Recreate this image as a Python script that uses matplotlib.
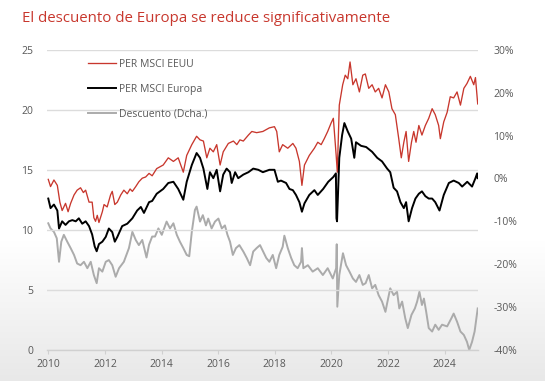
import numpy as np
import matplotlib
matplotlib.use("Agg")
import matplotlib.pyplot as plt

plt.rcParams['font.family'] = ['Open Sans', 'DejaVu Sans']

# ---- data (decimal years, values) ----
us_years = [2010.0, 2010.08, 2010.20, 2010.32, 2010.41, 2010.49, 2010.61, 2010.70, 2010.79, 2010.91,
            2011.02, 2011.14, 2011.24, 2011.32, 2011.44, 2011.55, 2011.61, 2011.67, 2011.73, 2011.79,
            2011.91, 2011.97, 2012.08, 2012.20, 2012.26, 2012.35, 2012.44, 2012.56, 2012.67, 2012.79,
            2012.89, 2012.97, 2013.09, 2013.20, 2013.32, 2013.44, 2013.56, 2013.67, 2013.83, 2014.06,
            2014.24, 2014.42, 2014.59, 2014.77, 2014.89, 2015.07, 2015.24, 2015.36, 2015.48, 2015.60,
            2015.71, 2015.83, 2015.95, 2016.07, 2016.18, 2016.36, 2016.54, 2016.66, 2016.77, 2016.89,
            2017.07, 2017.19, 2017.36, 2017.58, 2017.81, 2017.99, 2018.07, 2018.16, 2018.28, 2018.46,
            2018.64, 2018.75, 2018.87, 2018.96, 2019.05, 2019.22, 2019.40, 2019.52, 2019.64, 2019.75,
            2019.87, 2019.99, 2020.07, 2020.17, 2020.21, 2020.28, 2020.40, 2020.49, 2020.58, 2020.66,
            2020.76, 2020.87, 2020.99, 2021.11, 2021.20, 2021.32, 2021.44, 2021.55, 2021.67, 2021.79,
            2021.91, 2022.03, 2022.14, 2022.26, 2022.38, 2022.47, 2022.56, 2022.64, 2022.73, 2022.83,
            2022.91, 2022.99, 2023.09, 2023.20, 2023.32, 2023.44, 2023.56, 2023.67, 2023.79, 2023.85,
            2023.97, 2024.09, 2024.20, 2024.32, 2024.44, 2024.56, 2024.68, 2024.79, 2024.91, 2025.03,
            2025.09, 2025.17]
us_per = [14.2, 13.6, 14.15, 13.7, 12.3, 11.6, 12.2, 11.5, 12.2, 12.9,
          13.3, 13.5, 13.1, 13.3, 12.3, 12.3, 11.0, 10.7, 11.2, 10.6,
          11.5, 12.1, 11.9, 12.9, 13.2, 12.1, 12.3, 12.9, 13.3, 13.0,
          13.4, 13.2, 13.6, 14.0, 14.3, 14.4, 14.7, 14.5, 15.1, 15.4,
          16.0, 15.7, 16.0, 14.8, 16.2, 17.1, 17.8, 17.5, 17.4, 16.0,
          16.8, 16.5, 17.1, 15.4, 16.5, 17.2, 17.4, 17.1, 17.5, 17.4,
          17.9, 18.2, 18.1, 18.2, 18.5, 18.6, 18.2, 16.5, 17.1, 16.8,
          17.2, 16.8, 15.7, 13.7, 15.4, 16.2, 16.8, 17.3, 17.1, 17.6,
          18.2, 18.9, 19.3, 16.2, 14.8, 20.4, 22.1, 22.9, 22.6, 24.0,
          22.1, 22.6, 21.5, 22.9, 23.0, 21.8, 22.1, 21.5, 21.8, 21.0,
          22.1, 21.5, 20.1, 19.6, 17.6, 16.0, 17.3, 18.2, 15.7, 17.3,
          18.2, 17.3, 18.7, 17.9, 18.7, 19.3, 20.1, 19.6, 18.7, 17.6,
          19.0, 19.8, 21.1, 21.0, 21.5, 20.4, 21.8, 22.2, 22.8, 22.1,
          22.7, 20.5]

eu_years = [2010.0, 2010.08, 2010.20, 2010.32, 2010.38, 2010.49, 2010.61, 2010.73, 2010.85, 2010.97,
            2011.08, 2011.20, 2011.32, 2011.44, 2011.55, 2011.64, 2011.71, 2011.79, 2011.91, 2012.03,
            2012.14, 2012.26, 2012.35, 2012.44, 2012.61, 2012.79, 2012.97, 2013.14, 2013.27, 2013.38,
            2013.56, 2013.67, 2013.83, 2014.06, 2014.24, 2014.42, 2014.59, 2014.77, 2014.89, 2015.07,
            2015.24, 2015.36, 2015.48, 2015.62, 2015.71, 2015.83, 2015.95, 2016.07, 2016.18, 2016.30,
            2016.42, 2016.48, 2016.60, 2016.71, 2016.89, 2017.07, 2017.24, 2017.42, 2017.58, 2017.81,
            2017.99, 2018.11, 2018.22, 2018.40, 2018.52, 2018.64, 2018.75, 2018.87, 2018.96, 2019.05,
            2019.22, 2019.40, 2019.52, 2019.71, 2019.89, 2020.07, 2020.16, 2020.18, 2020.20, 2020.28,
            2020.38, 2020.46, 2020.58, 2020.70, 2020.81, 2020.87, 2021.05, 2021.23, 2021.44, 2021.62,
            2021.79, 2021.97, 2022.08, 2022.20, 2022.32, 2022.44, 2022.56, 2022.64, 2022.73, 2022.85,
            2022.97, 2023.09, 2023.20, 2023.32, 2023.44, 2023.56, 2023.67, 2023.82, 2023.97, 2024.15,
            2024.32, 2024.50, 2024.62, 2024.80, 2024.97, 2025.09, 2025.15, 2025.17]
eu_per = [12.6, 11.8, 12.1, 11.6, 10.1, 10.7, 10.4, 10.7, 10.8, 10.7,
          10.95, 10.5, 10.7, 10.3, 9.6, 8.6, 8.2, 8.8, 9.0, 9.4,
          10.1, 9.8, 9.0, 9.4, 10.3, 10.5, 10.95, 11.6, 11.9, 11.4,
          12.3, 12.4, 13.0, 13.4, 13.9, 14.0, 13.4, 12.5, 14.0, 15.4,
          16.4, 16.0, 15.1, 13.4, 14.8, 14.3, 15.0, 13.2, 14.6, 15.1,
          14.8, 13.9, 14.8, 14.3, 14.6, 14.8, 15.1, 15.0, 14.8, 15.0,
          15.0, 14.0, 14.1, 13.9, 13.4, 13.3, 12.9, 12.3, 11.5, 12.2,
          12.9, 13.3, 12.9, 13.4, 14.0, 14.4, 14.7, 10.95, 10.7, 16.0,
          17.9, 18.9, 18.2, 17.6, 16.0, 17.3, 17.0, 16.9, 16.5, 16.0,
          15.7, 15.1, 14.8, 13.5, 13.2, 12.3, 11.8, 12.3, 10.7, 11.8,
          12.6, 13.0, 13.2, 12.8, 12.6, 12.6, 12.3, 11.6, 12.9, 13.9,
          14.1, 13.9, 13.6, 14.0, 13.6, 14.3, 14.7, 14.3]

disc_years = [2010.0, 2010.08, 2010.20, 2010.30, 2010.38, 2010.46, 2010.55, 2010.67, 2010.79, 2010.91,
              2011.02, 2011.14, 2011.26, 2011.38, 2011.50, 2011.61, 2011.71, 2011.79, 2011.91, 2012.03,
              2012.14, 2012.26, 2012.38, 2012.50, 2012.67, 2012.85, 2012.97, 2013.09, 2013.20, 2013.32,
              2013.47, 2013.56, 2013.67, 2013.77, 2013.89, 2014.01, 2014.18, 2014.30, 2014.42, 2014.54,
              2014.65, 2014.77, 2014.89, 2014.98, 2015.07, 2015.18, 2015.24, 2015.36, 2015.46, 2015.57,
              2015.65, 2015.77, 2015.89, 2016.01, 2016.13, 2016.24, 2016.33, 2016.42, 2016.52, 2016.63,
              2016.75, 2016.89, 2017.01, 2017.13, 2017.24, 2017.36, 2017.48, 2017.59, 2017.70, 2017.81,
              2017.93, 2018.05, 2018.16, 2018.28, 2018.34, 2018.46, 2018.58, 2018.69, 2018.81, 2018.93,
              2018.96, 2019.01, 2019.17, 2019.34, 2019.52, 2019.70, 2019.87, 2020.05, 2020.17, 2020.19,
              2020.21, 2020.28, 2020.41, 2020.52, 2020.64, 2020.76, 2020.87, 2020.99, 2021.11, 2021.21,
              2021.32, 2021.44, 2021.55, 2021.67, 2021.79, 2021.91, 2021.97, 2022.08, 2022.20, 2022.32,
              2022.40, 2022.50, 2022.61, 2022.70, 2022.83, 2022.95, 2023.03, 2023.11, 2023.20, 2023.27,
              2023.35, 2023.44, 2023.56, 2023.67, 2023.79, 2023.91, 2024.09, 2024.24, 2024.32, 2024.44,
              2024.56, 2024.68, 2024.79, 2024.87, 2024.97, 2025.06, 2025.17]
disc_pct = [-10.5, -11.7, -12.5, -14.0, -19.5, -14.8, -13.2, -14.8, -16.3, -17.9,
            -19.9, -20.3, -19.5, -21.0, -19.5, -22.6, -24.5, -21.0, -21.8, -19.5,
            -19.1, -20.3, -23.0, -21.0, -19.5, -16.3, -12.5, -14.4, -15.6, -14.4,
            -18.5, -15.5, -13.6, -13.6, -11.7, -13.2, -10.1, -11.7, -10.5, -13.2,
            -14.8, -16.3, -17.9, -18.2, -12.5, -7.4, -6.6, -10.1, -8.6, -11.0,
            -9.4, -11.7, -10.1, -9.4, -11.7, -11.0, -13.2, -14.8, -17.9, -16.3,
            -15.6, -17.1, -18.6, -20.3, -17.1, -16.3, -15.6, -17.1, -18.6, -19.5,
            -17.9, -21.0, -17.9, -16.0, -13.4, -16.3, -18.6, -20.3, -21.0, -19.5,
            -16.3, -21.0, -20.3, -21.8, -21.0, -22.6, -21.0, -23.4, -21.0, -15.4,
            -30.0, -22.6, -17.5, -20.3, -21.8, -23.4, -24.2, -22.6, -24.9, -24.5,
            -22.6, -25.7, -24.9, -27.3, -28.8, -31.2, -29.2, -25.7, -27.3, -26.5,
            -30.4, -28.8, -32.7, -35.0, -31.9, -30.4, -28.8, -26.5, -29.6, -28.1,
            -31.2, -35.0, -35.8, -34.2, -35.4, -34.2, -34.6, -32.7, -31.6, -33.5,
            -35.8, -36.6, -38.2, -40.1, -38.2, -35.8, -30.4]

title = "El descuento de Europa se reduce significativamente"
labels = ["PER MSCI EEUU", "PER MSCI Europa", "Descuento (Dcha.)"]
x_ticks = [2010, 2012, 2014, 2016, 2018, 2020, 2022, 2024]
left_ticks = [0, 5, 10, 15, 20, 25]
right_ticks = [-40, -30, -20, -10, 0, 10, 20, 30]

RED = "#c8372d"
GRAY_LINE = "#ababab"
TXT = "#595959"

fig = plt.figure(figsize=(5.45, 3.81), dpi=100)

# subtle background gradient (lighter top, grey at bottom)
bg = fig.add_axes([0, 0, 1, 1], zorder=-10)
grad = np.ones((381, 1))
rows = np.arange(381)
start = 240
grad[start:, 0] = 1 - (rows[start:] - start) / (380 - start) * 0.09
bg.imshow(np.dstack([grad, grad, grad]), aspect='auto', extent=[0, 1, 0, 1], origin='upper')
bg.axis('off')

ax = fig.add_axes([47/545, 1-349.5/381, (478-47)/545, (349.5-50)/381])
ax.set_facecolor('none')
ax2 = ax.twinx()

l1, = ax.plot(us_years, us_per, color=RED, lw=0.95, zorder=3)
l2, = ax.plot(eu_years, eu_per, color='black', lw=1.4, zorder=3)
l3, = ax2.plot(disc_years, disc_pct, color=GRAY_LINE, lw=1.4, zorder=2)

ax.set_ylim(0, 25)
ax2.set_ylim(-40, 30)
ax.set_xlim(2009.955, 2025.18)

ax.set_yticks(left_ticks)
ax.set_yticklabels([str(t) for t in left_ticks])
ax2.set_yticks(right_ticks)
ax2.set_yticklabels([f"{t}%" for t in right_ticks])
ax.set_xticks(x_ticks)
ax.set_xticklabels([str(t) for t in x_ticks])

for a in (ax, ax2):
    for s in a.spines.values():
        s.set_visible(False)
ax.spines['bottom'].set_visible(True)
ax.spines['bottom'].set_color('#d0d0d0')
ax.spines['bottom'].set_linewidth(1.0)

ax.grid(axis='y', color='#dcdcdc', lw=1.0, zorder=0)
ax.set_axisbelow(True)

ax.tick_params(axis='y', length=0, pad=10, labelsize=7.5, labelcolor=TXT)
ax2.tick_params(axis='y', length=0, pad=11, labelsize=7.5, labelcolor=TXT)
ax.tick_params(axis='x', length=3, color='#d0d0d0', pad=4, labelsize=7.5, labelcolor=TXT)

# put the grey series behind the left-axis lines
ax.set_zorder(ax2.get_zorder() + 1)
ax.patch.set_visible(False)

leg = ax.legend([l1, l2, l3], labels, loc='upper left', bbox_to_anchor=(0.085, 0.985),
                frameon=False, fontsize=7.5, handlelength=2.7, handletextpad=0.25,
                labelspacing=1.35, borderaxespad=0)
for t in leg.get_texts():
    t.set_color(TXT)

fig.text(22/545, 1-18/381, title, color=RED, fontsize=10.8, ha='left', va='center')

fig.savefig("out.png", dpi=100)
